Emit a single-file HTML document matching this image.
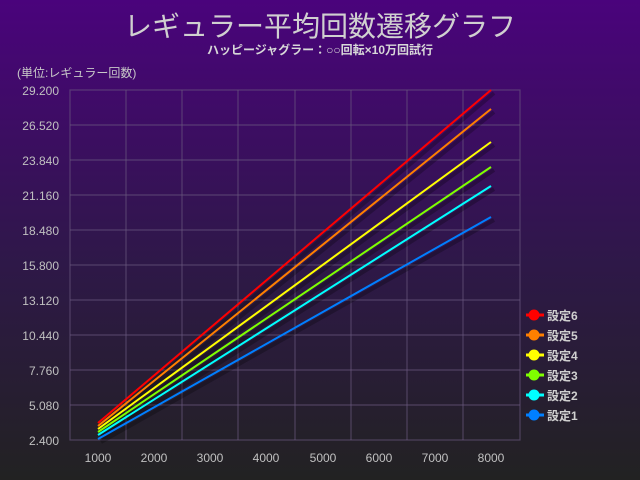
<!DOCTYPE html>
<html><head><meta charset="utf-8"><style>
html,body{margin:0;padding:0}
body{width:640px;height:480px;background:linear-gradient(#4a037c 0%,#2e1848 55%,#222 100%);font-family:"Liberation Sans","Noto Sans CJK JP",sans-serif;}
</style></head><body>
<svg width="640" height="480" xmlns="http://www.w3.org/2000/svg" style="position:absolute;left:0;top:0;font-family:'Liberation Sans','Noto Sans CJK JP',sans-serif">
<text x="320" y="36" text-anchor="middle" font-size="28" fill="#d0d0d0">レギュラー平均回数遷移グラフ</text>
<text x="320" y="54" text-anchor="middle" font-size="12" font-weight="bold" fill="#d8d8d8">ハッピージャグラー：○○回転×10万回試行</text>
<text x="17" y="77" font-size="12" fill="#c8c8c8">(単位:レギュラー回数)</text>
<g stroke="#6a5a80" stroke-opacity="0.6" stroke-width="1.2" fill="none">
<rect x="70" y="90" width="450" height="350"/>
<path d="M126 90V440M182 90V440M238 90V440M295 90V440M351 90V440M407 90V440M463 90V440"/>
<path d="M70 125H520M70 160H520M70 195H520M70 230H520M70 265H520M70 300H520M70 335H520M70 370H520M70 405H520"/>
</g>
<g font-size="12" fill="#c0c0c0" text-anchor="end">
<text x="59" y="95">29.200</text><text x="59" y="130">26.520</text><text x="59" y="165">23.840</text><text x="59" y="200">21.160</text><text x="59" y="235">18.480</text><text x="59" y="270">15.800</text><text x="59" y="305">13.120</text><text x="59" y="340">10.440</text><text x="59" y="375">7.760</text><text x="59" y="410">5.080</text><text x="59" y="445">2.400</text>
</g>
<g font-size="12" fill="#c0c0c0" text-anchor="middle">
<text x="98" y="462">1000</text><text x="154" y="462">2000</text><text x="210" y="462">3000</text><text x="266" y="462">4000</text><text x="323" y="462">5000</text><text x="379" y="462">6000</text><text x="435" y="462">7000</text><text x="491" y="462">8000</text>
</g>
<g stroke="#000" stroke-opacity="0.25" stroke-width="4" fill="none" transform="translate(3,3)">
<path d="M98 423L491 90"/><path d="M98 426L491 109"/><path d="M98 429L491 142"/><path d="M98 432L491 167"/><path d="M98 435L491 186"/><path d="M98 439L491 217"/>
</g>
<g stroke-width="2" fill="none">
<path d="M98 423L491 90" stroke="#ff0000"/>
<path d="M98 426L491 109" stroke="#ff7f00"/>
<path d="M98 429L491 142" stroke="#ffff00"/>
<path d="M98 432L491 167" stroke="#7fff00"/>
<path d="M98 435L491 186" stroke="#00ffff"/>
<path d="M98 439L491 217" stroke="#007fff"/>
</g>
<g font-size="12" font-weight="bold" fill="#d0d0d0">
<g><path d="M526 315H544" stroke="#ff0000" stroke-width="3"/><circle cx="534" cy="315" r="5.5" fill="#ff0000"/><text x="547" y="320">設定6</text></g>
<g><path d="M526 335H544" stroke="#ff7f00" stroke-width="3"/><circle cx="534" cy="335" r="5.5" fill="#ff7f00"/><text x="547" y="340">設定5</text></g>
<g><path d="M526 355H544" stroke="#ffff00" stroke-width="3"/><circle cx="534" cy="355" r="5.5" fill="#ffff00"/><text x="547" y="360">設定4</text></g>
<g><path d="M526 375H544" stroke="#7fff00" stroke-width="3"/><circle cx="534" cy="375" r="5.5" fill="#7fff00"/><text x="547" y="380">設定3</text></g>
<g><path d="M526 395H544" stroke="#00ffff" stroke-width="3"/><circle cx="534" cy="395" r="5.5" fill="#00ffff"/><text x="547" y="400">設定2</text></g>
<g><path d="M526 415H544" stroke="#007fff" stroke-width="3"/><circle cx="534" cy="415" r="5.5" fill="#007fff"/><text x="547" y="420">設定1</text></g>
</g>
</svg>
</body></html>
